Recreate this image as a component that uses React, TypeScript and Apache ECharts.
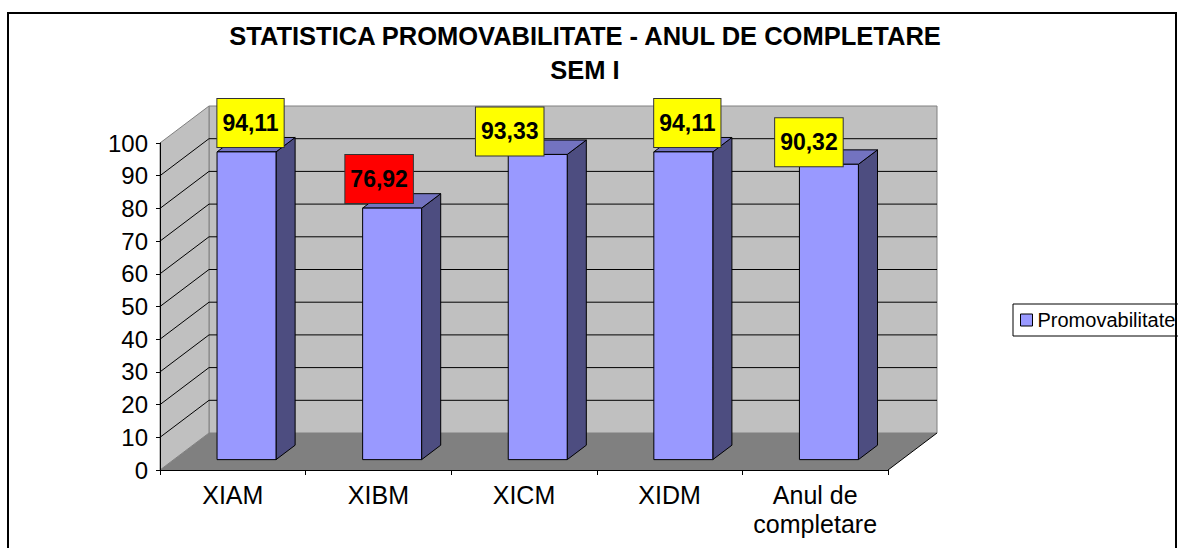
import React, { useEffect, useRef } from "react";
import * as echarts from "echarts";

// ---- data ----
const categories = ["XIAM", "XIBM", "XICM", "XIDM", "Anul de\ncompletare"];
const promovabilitate = [94.11, 76.92, 93.33, 94.11, 90.32];
const seriesName = "Promovabilitate";
const titleLines = ["STATISTICA PROMOVABILITATE - ANUL DE COMPLETARE", "SEM I"];
const yMin = 0;
const yMax = 100;
const yStep = 10;

// ---- styles / layout (not data) ----
const labelFill = ["#ffff00", "#ff0000", "#ffff00", "#ffff00", "#ffff00"];
const labelShift = [
  [4, -29],
  [-13, -29],
  [-28, -23],
  [4, -29],
  [-20, -22],
];
const DX = 49; // depth vector of the 3D box
const DY = -37;
const F1 = 0.28; // bar front plane (fraction of depth)
const F2 = 0.67; // bar back plane
const BAR_FRAC = 0.405;
const FONT = '"Liberation Sans", Arial, sans-serif';

const fmt = (v: number) => v.toFixed(2).replace(".", ",");

export default function App() {
  const ref = useRef<HTMLDivElement>(null);

  useEffect(() => {
    document.body.style.margin = "0";
    if (!ref.current) return;
    const chart = echarts.init(ref.current, undefined, { renderer: "svg" });

    const wallsRender = (params: any, api: any) => {
      const cs = params.coordSys;
      const x0 = cs.x;
      const x1 = cs.x + cs.width;
      const y0 = api.coord([0, yMin])[1];
      const yT = api.coord([0, yMax])[1];
      const children: any[] = [];
      // back wall
      children.push({
        type: "polygon",
        shape: {
          points: [
            [x0 + DX, y0 + DY],
            [x1 + DX, y0 + DY],
            [x1 + DX, yT + DY],
            [x0 + DX, yT + DY],
          ],
        },
        style: { fill: "#c0c0c0", stroke: "#808080", lineWidth: 1 },
      });
      // side wall
      children.push({
        type: "polygon",
        shape: {
          points: [
            [x0, y0],
            [x0 + DX, y0 + DY],
            [x0 + DX, yT + DY],
            [x0, yT],
          ],
        },
        style: { fill: "#c0c0c0", stroke: "#808080", lineWidth: 1 },
      });
      // floor
      children.push({
        type: "polygon",
        shape: {
          points: [
            [x0, y0],
            [x1, y0],
            [x1 + DX, y0 + DY],
            [x0 + DX, y0 + DY],
          ],
        },
        style: { fill: "#808080", stroke: "none" },
      });
      children.push({
        type: "line",
        shape: { x1: x1, y1: y0, x2: x1 + DX, y2: y0 + DY },
        style: { stroke: "#000", lineWidth: 1 },
      });
      // gridlines
      for (let v = yMin + yStep; v < yMax; v += yStep) {
        const y = api.coord([0, v])[1];
        children.push({
          type: "polyline",
          shape: {
            points: [
              [x0, y],
              [x0 + DX, y + DY],
              [x1 + DX, y + DY],
            ],
          },
          style: { stroke: "#000", lineWidth: 1, fill: "none" },
        });
      }
      return { type: "group", children };
    };

    const barsRender = (params: any, api: any) => {
      const i = api.value(0);
      const v = api.value(1);
      const base = api.coord([i, yMin]);
      const top = api.coord([i, v]);
      const bw = api.size([1, 0])[0] * BAR_FRAC;
      const xL = base[0] + DX * F1 - bw / 2;
      const xR = xL + bw;
      const yB = base[1] + DY * F1;
      const yT = top[1] + DY * F1;
      const ddx = DX * (F2 - F1);
      const ddy = DY * (F2 - F1);
      const sh = labelShift[params.dataIndex];
      return {
        type: "group",
        children: [
          {
            type: "polygon",
            shape: {
              points: [
                [xR, yT],
                [xR + ddx, yT + ddy],
                [xR + ddx, yB + ddy],
                [xR, yB],
              ],
            },
            style: { fill: "#4d4d80", stroke: "#000", lineWidth: 1 },
          },
          {
            type: "polygon",
            shape: {
              points: [
                [xL, yT],
                [xR, yT],
                [xR + ddx, yT + ddy],
                [xL + ddx, yT + ddy],
              ],
            },
            style: { fill: "#7373c0", stroke: "#000", lineWidth: 1 },
          },
          {
            type: "rect",
            shape: { x: xL, y: yT, width: bw, height: yB - yT },
            style: { fill: "#9999ff", stroke: "#000", lineWidth: 1 },
          },
          {
            type: "text",
            x: (xL + xR) / 2 + sh[0],
            y: yT + sh[1],
            z2: 20,
            style: {
              text: fmt(v),
              fill: "#000",
              font: `bold 23px ${FONT}`,
              align: "center",
              verticalAlign: "middle",
              backgroundColor: labelFill[params.dataIndex],
              borderColor: "#333",
              borderWidth: 1,
              padding: [13, 5, 12, 5],
            },
          },
        ],
      };
    };

    chart.setOption({
      animation: false,
      title: {
        text: titleLines.join("\n"),
        left: 585,
        top: 19,
        textAlign: "center",
        padding: 0,
        textStyle: {
          fontSize: 25.5,
          fontWeight: "bold",
          fontFamily: FONT,
          color: "#000",
          lineHeight: 34,
        },
      },
      legend: {
        data: [{ name: seriesName, icon: "rect" }],
        left: 1013,
        top: 304,
        orient: "vertical",
        padding: [6, 8, 6, 7],
        itemWidth: 12,
        itemHeight: 12,
        backgroundColor: "#fff",
        borderColor: "#000",
        borderWidth: 1,
        borderRadius: 0,
        itemStyle: { borderColor: "#000", borderWidth: 1 },
        textStyle: { fontSize: 20, fontFamily: FONT, color: "#000" },
      },
      grid: { left: 160, top: 143, width: 728, height: 327, containLabel: false },
      xAxis: {
        type: "category",
        data: categories,
        boundaryGap: true,
        z: 5,
        axisLine: { show: true, lineStyle: { color: "#000", width: 1 } },
        axisTick: { show: true, length: 5, lineStyle: { color: "#000" } },
        axisLabel: {
          interval: 0,
          fontSize: 25,
          fontFamily: FONT,
          color: "#000",
          margin: 10,
          lineHeight: 29,
        },
        splitLine: { show: false },
      },
      yAxis: {
        type: "value",
        min: yMin,
        max: yMax,
        interval: yStep,
        z: 5,
        axisLine: { show: true, lineStyle: { color: "#000", width: 1 } },
        axisTick: { show: true, length: 4, lineStyle: { color: "#000" } },
        axisLabel: { fontSize: 24, fontFamily: FONT, color: "#000", margin: 12 },
        splitLine: { show: false },
      },
      graphic: [
        {
          type: "rect",
          z: 100,
          silent: true,
          shape: { x: 8, y: 13, width: 1168, height: 600 },
          style: { fill: "none", stroke: "#000", lineWidth: 2 },
        },
      ],
      series: [
        {
          type: "custom",
          name: "walls",
          z: 1,
          clip: false,
          silent: true,
          renderItem: wallsRender,
          data: [[0, 0]],
        },
        {
          type: "custom",
          name: seriesName,
          z: 2,
          clip: false,
          itemStyle: { color: "#9999ff" },
          renderItem: barsRender,
          data: promovabilitate.map((v, i) => [i, v]),
        },
      ],
    });

    return () => chart.dispose();
  }, []);

  return <div ref={ref} style={{ width: 1178, height: 548 }} />;
}
